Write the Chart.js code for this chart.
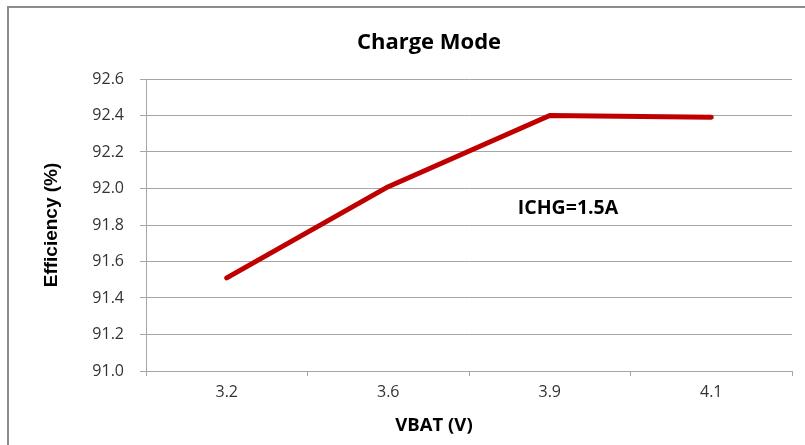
<!DOCTYPE html>
<html lang="en">
<head>
  <meta charset="UTF-8">
  <title>Charge Mode</title>
  <script src="https://cdn.jsdelivr.net/npm/chart.js"></script>
  <style>
    html, body { margin: 0; padding: 0; background: #fff; overflow: hidden; }
    #frame {
      position: absolute; left: 7px; top: 6px; width: 900px; height: 500px;
      border-top: 2px solid #8c8c8c; border-left: 2px solid #8c8c8c;
    }
    #wrap { position: absolute; left: 0; top: 0; width: 805px; height: 445px; }
  </style>
</head>
<body>
  <div id="frame"></div>
  <div id="wrap"><canvas id="chart" width="805" height="445"></canvas></div>

  <script>
    // chart data
    var categories = ['3.2', '3.6', '3.9', '4.1'];
    var efficiency = [91.51, 92.01, 92.40, 92.39];
    var yTicks = [91.0, 91.2, 91.4, 91.6, 91.8, 92.0, 92.2, 92.4, 92.6];

    var gridColor = '#a6a6a6';
    var tickFont = { family: 'Open Sans', size: 16 };

    // the original frame is wider than the window, so the title sits right of centre
    var shiftTitle = {
      id: 'shiftTitle',
      beforeDraw: function(chart) {
        var t = chart.titleBlock;
        if (t) { t.left = 53; t.right = 805; t.width = 752; }
      }
    };

    // x axis title and the note inside the plot
    var extraText = {
      id: 'extraText',
      afterDraw: function(chart) {
        var ctx = chart.ctx;
        ctx.save();
        ctx.fillStyle = '#000';
        ctx.textAlign = 'center';
        ctx.textBaseline = 'middle';
        ctx.font = 'bold 19.5px "Open Sans"';
        ctx.fillText('ICHG=1.5A', 568, 208);
        ctx.font = 'bold 18.5px "Open Sans"';
        ctx.fillText('VBAT (V)', 434, 426);
        ctx.restore();
      }
    };

    new Chart(document.getElementById('chart'), {
      type: 'line',
      data: {
        labels: categories,
        datasets: [{
          data: efficiency,
          borderColor: '#c00000',
          borderWidth: 5,
          borderCapStyle: 'round',
          borderJoinStyle: 'round',
          pointRadius: 0,
          tension: 0,
          fill: false
        }]
      },
      options: {
        responsive: false,
        animation: false,
        layout: { padding: { left: 10, right: 13, top: 0, bottom: 0 } },
        plugins: {
          legend: { display: false },
          tooltip: { enabled: false },
          title: {
            display: true,
            text: 'Charge Mode',
            color: '#000',
            font: { family: 'Open Sans', size: 22, weight: 'bold' },
            padding: { top: 30, bottom: 22.6 }
          }
        },
        scales: {
          x: {
            offset: true,
            grid: { drawOnChartArea: false, offset: true, tickLength: 5, color: gridColor },
            border: { color: gridColor },
            ticks: { color: '#333', font: tickFont, padding: 7 },
            afterFit: function(s) { s.height = 74; }
          },
          y: {
            min: 91.0,
            max: 92.6,
            afterBuildTicks: function(s) { s.ticks = yTicks.map(function(v) { return { value: v }; }); },
            grid: { color: gridColor, tickLength: 6 },
            border: { color: gridColor },
            ticks: {
              color: '#333',
              font: tickFont,
              padding: 16,
              callback: function(v) { return Number(v).toFixed(1); }
            },
            title: {
              display: true,
              text: 'Efficiency (%)',
              color: '#000',
              font: { family: 'Liberation Sans', size: 19, weight: 'bold' },
              padding: { top: 30, bottom: 0 }
            },
            afterFit: function(s) { s.width = 136; }
          }
        }
      },
      plugins: [shiftTitle, extraText]
    });
  </script>
</body>
</html>
